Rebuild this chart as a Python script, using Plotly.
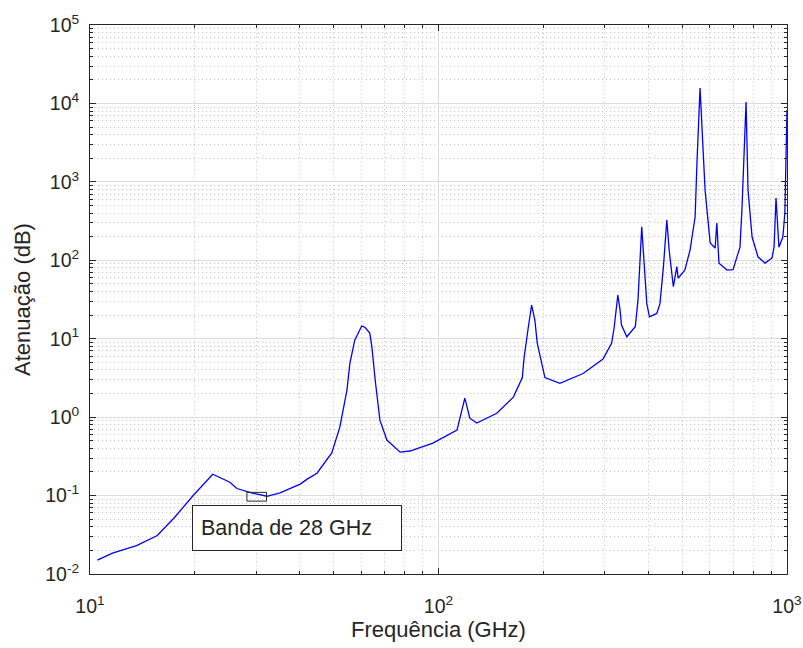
import plotly.graph_objects as go

# Frequency (GHz) and attenuation (dB)
freq_ghz = [10.5, 11.6, 13.6, 15.6, 17.5, 19.8, 22.5, 25.2, 26.4, 29.4, 32.2, 35.1,
            40.1, 42.0, 44.8, 49.4, 52.1, 54.6, 55.7, 57.5, 60.2, 61.5, 63.5, 64.4,
            65.8, 67.9, 71.1, 77.6, 82.8, 96.4, 113, 115, 119, 123, 128.8, 147,
            164, 174, 176, 181, 185, 189, 192, 202, 223, 260, 296.5, 314, 319, 327,
            332, 335, 347, 367, 373.6, 383, 392, 396, 403, 423, 432, 442, 452, 459,
            472, 483, 487, 509, 527, 545, 552, 563, 582, 602, 622, 629, 638, 673,
            700, 733, 743, 745, 763, 773, 794, 826, 865, 906, 918, 930, 948, 973,
            986, 1000]
atten_db = [0.015, 0.0184, 0.023, 0.031, 0.053, 0.101, 0.187, 0.148, 0.123, 0.107, 0.098, 0.108,
            0.140, 0.162, 0.193, 0.35, 0.745, 2.2, 4.9, 9.6, 14.5, 14.0, 11.8, 7.8,
            3.0, 0.916, 0.51, 0.358, 0.37, 0.466, 0.683, 0.916, 1.75, 0.97, 0.84, 1.12,
            1.8, 3.2, 5.7, 14, 26.8, 17.3, 8.8, 3.2, 2.7, 3.6, 5.5, 8.8, 13.6, 36,
            23, 14.9, 10.6, 14.2, 31, 267, 51, 28, 19, 21, 28, 83, 326, 135,
            46, 83, 59, 75, 135, 359, 1897, 15700, 785, 166, 143, 298, 92, 75,
            76, 147, 478, 680, 10400, 785, 198, 110, 92, 107, 147, 621, 147, 198,
            400, 8250]

# Axis ticks
x_tickvals = [10, 100, 1000]
x_ticktext = ["10<sup>1</sup>", "10<sup>2</sup>", "10<sup>3</sup>"]
y_tickvals = [1e-2, 1e-1, 1e0, 1e1, 1e2, 1e3, 1e4, 1e5]
y_ticktext = ["10<sup>-2</sup>", "10<sup>-1</sup>", "10<sup>0</sup>", "10<sup>1</sup>",
              "10<sup>2</sup>", "10<sup>3</sup>", "10<sup>4</sup>", "10<sup>5</sup>"]

# 28 GHz band marker
band_freq = [28.2, 32.1]
band_atten = [0.085, 0.110]
band_label = "Banda de 28 GHz"

TXT = "#262626"
FONT = "Liberation Sans, Arial, Helvetica, sans-serif"

fig = go.Figure()
fig.add_trace(go.Scatter(x=freq_ghz, y=atten_db, mode="lines",
                         line=dict(color="#0000ff", width=1.3), showlegend=False))

fig.add_shape(type="rect", xref="x", yref="y",
              x0=band_freq[0], x1=band_freq[1], y0=band_atten[0], y1=band_atten[1],
              line=dict(color=TXT, width=1))

fig.add_annotation(xref="paper", yref="paper", x=0.1463, y=0.0419,
                   xanchor="left", yanchor="bottom", text=band_label, showarrow=False,
                   align="left", valign="middle", width=192, height=28, borderpad=8,
                   bordercolor=TXT, borderwidth=1, bgcolor="white",
                   font=dict(family=FONT, size=21.5, color=TXT))

axis_common = dict(
    type="log", showline=True, linecolor=TXT, linewidth=1, mirror="ticks",
    ticks="inside", ticklen=6, tickcolor=TXT, tickmode="array",
    tickfont=dict(family=FONT, size=19.5, color=TXT), ticklabeloverflow="allow",
    showgrid=True, gridcolor="#dcdcdc", gridwidth=1, zeroline=False,
    minor=dict(dtick="D1", ticks="inside", ticklen=3, tickcolor=TXT,
               showgrid=True, gridcolor="#c4c4c4", griddash="1px,3px", gridwidth=1),
)

fig.update_xaxes(**axis_common, range=[1, 3], tickvals=x_tickvals, ticktext=x_ticktext,
                 ticklabelstandoff=15,
                 title=dict(text="Frequência (GHz)", standoff=4,
                            font=dict(family=FONT, size=22, color=TXT)))
fig.update_yaxes(**axis_common, range=[-2, 5], tickvals=y_tickvals, ticktext=y_ticktext,
                 ticklabelstandoff=6,
                 title=dict(text="Atenuação (dB)", standoff=8,
                            font=dict(family=FONT, size=22, color=TXT)))

fig.update_layout(width=803, height=648,
                  margin=dict(l=90, r=16, t=25, b=74, autoexpand=False),
                  paper_bgcolor="white", plot_bgcolor="white",
                  font=dict(family=FONT, color=TXT))

# remove the default page margin so the 803x648 figure fills the window exactly
fig.write_html("out.html",
               config={"displayModeBar": False},
               post_script="document.body.style.margin='0';"
                           "document.body.style.overflow='hidden';")
